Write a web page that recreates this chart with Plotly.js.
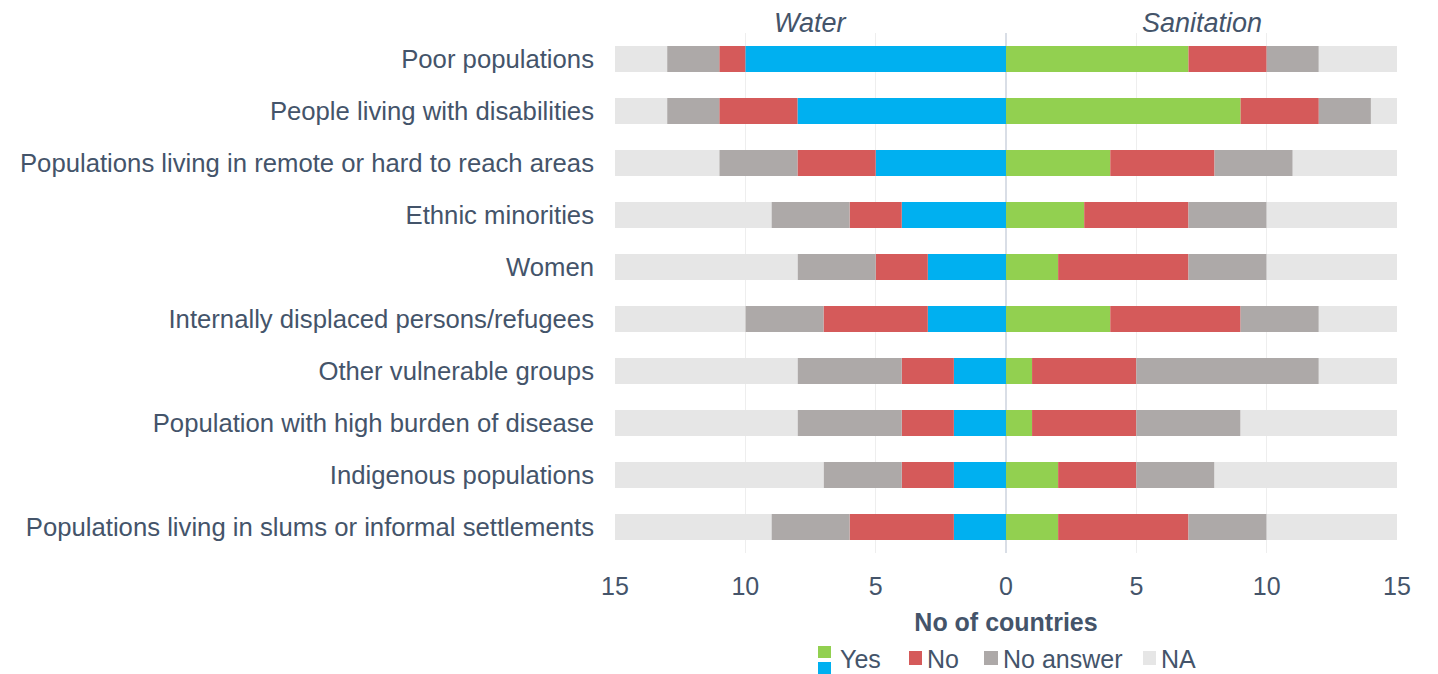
<!DOCTYPE html>
<html><head><meta charset="utf-8">
<script src="https://cdn.plot.ly/plotly-3.0.1.min.js"></script>
<style>html,body{margin:0;padding:0;background:#fff}#chart{width:1438px;height:674px}</style>
</head><body><div id="chart"></div>
<script>
const categories = [
  "Poor populations",
  "People living with disabilities",
  "Populations living in remote or hard to reach areas",
  "Ethnic minorities",
  "Women",
  "Internally displaced persons/refugees",
  "Other vulnerable groups",
  "Population with high burden of disease",
  "Indigenous populations",
  "Populations living in slums or informal settlements"
];
const waterYes      = [10, 8, 5, 4, 3, 3, 2, 2, 2, 2];
const waterNo       = [1, 3, 3, 2, 2, 4, 2, 2, 2, 4];
const waterNoAnswer = [2, 2, 3, 3, 3, 3, 4, 4, 3, 3];
const waterNA       = [2, 2, 4, 6, 7, 5, 7, 7, 8, 6];
const sanYes        = [7, 9, 4, 3, 2, 4, 1, 1, 2, 2];
const sanNo         = [3, 3, 4, 4, 5, 5, 4, 4, 3, 5];
const sanNoAnswer   = [2, 2, 3, 3, 3, 3, 7, 4, 3, 3];
const sanNA         = [3, 1, 4, 5, 5, 3, 3, 6, 7, 5];
const tickVals  = [-15, -10, -5, 0, 5, 10, 15];
const tickText  = ["15", "10", "5", "0", "5", "10", "15"];

const C = {blue:"#00B0F0", green:"#92D050", red:"#D55A5A", grey:"#ADA9A8", na:"#E6E6E6", text:"#44546A"};
const neg = a => a.map(v => -v);
function bar(x, color, name){
  return {type:"bar", orientation:"h", y:categories, x:x, name:name, width:0.5,
          marker:{color:color, line:{width:0}}, showlegend:false, hoverinfo:"x+y+name"};
}
const data = [
  bar(neg(waterYes), C.blue, "Water Yes"),
  bar(neg(waterNo), C.red, "Water No"),
  bar(neg(waterNoAnswer), C.grey, "Water No answer"),
  bar(neg(waterNA), C.na, "Water NA"),
  bar(sanYes, C.green, "Sanitation Yes"),
  bar(sanNo, C.red, "Sanitation No"),
  bar(sanNoAnswer, C.grey, "Sanitation No answer"),
  bar(sanNA, C.na, "Sanitation NA")
];

const L = 615, R = 1397, T = 33, B = 553;
const px = x => (x - L) / (R - L);
const py = y => (B - y) / (B - T);
const sq = (x0, y0, x1, y1, c) => ({type:"rect", xref:"paper", yref:"paper",
  x0:px(x0), x1:px(x1), y0:py(y1), y1:py(y0), fillcolor:c, line:{width:0}});
const lab = (x, y, t) => ({xref:"paper", yref:"paper", x:px(x), y:py(y), text:t,
  showarrow:false, xanchor:"left", yanchor:"middle", font:{size:25, color:C.text}});

const layout = {
  width:1438, height:674,
  margin:{l:615, r:41, t:33, b:121, pad:0},
  paper_bgcolor:"#fff", plot_bgcolor:"#fff",
  barmode:"relative", bargap:0.5,
  font:{family:"Liberation Sans, Arial, sans-serif", color:C.text, size:25},
  xaxis:{range:[-15,15], tickvals:tickVals, ticktext:tickText, showgrid:true,
         gridcolor:"#EEEEEE", gridwidth:1.5, zeroline:true, zerolinecolor:"#D9DEE6", zerolinewidth:2,
         tickfont:{size:25, color:C.text}, ticks:"", ticklen:0, ticklabelstandoff:16, fixedrange:true,
         title:{text:"<b>No of countries</b>", font:{size:25, color:C.text}, standoff:14}},
  yaxis:{autorange:"reversed", tickfont:{size:25.7, color:C.text}, ticks:"", ticklabelstandoff:20,
         showgrid:false, zeroline:false},
  shapes:[
    sq(818, 646, 831, 658, C.green),
    sq(818, 662, 831, 674, C.blue),
    sq(909, 651, 922, 665, C.red),
    sq(984, 651, 998, 665, C.grey),
    sq(1143, 651, 1156, 665, C.na)
  ],
  annotations:[
    {xref:"x", yref:"paper", x:-7.5, y:py(23), text:"<i>Water</i>", showarrow:false,
     font:{size:27, color:C.text}, xanchor:"center", yanchor:"middle"},
    {xref:"x", yref:"paper", x:7.5, y:py(23), text:"<i>Sanitation</i>", showarrow:false,
     font:{size:27, color:C.text}, xanchor:"center", yanchor:"middle"},
    lab(838, 659, "Yes"),
    lab(925, 659, "No"),
    lab(1001, 659, "No answer"),
    lab(1159, 659, "NA")
  ]
};
Plotly.newPlot("chart", data, layout, {displayModeBar:false, staticPlot:true});
</script></body></html>
